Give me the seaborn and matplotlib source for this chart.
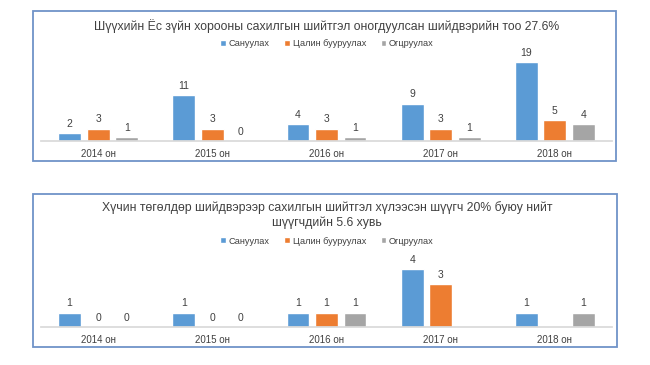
import matplotlib
matplotlib.use("Agg")
import matplotlib.pyplot as plt
import seaborn as sns
import pandas as pd
import numpy as np
from matplotlib.patches import Rectangle

years = ["2014 он", "2015 он", "2016 он", "2017 он", "2018 он"]
series = ["Сануулах", "Цалин бууруулах", "Огцруулах"]

top_sanuulah = [2, 11, 4, 9, 19]
top_tsalin = [3, 3, 3, 3, 5]
top_ogtsruulah = [1, 0, 1, 1, 4]

bot_sanuulah = [1, 1, 1, 4, 1]
bot_tsalin = [0, 0, 1, 3, np.nan]
bot_ogtsruulah = [0, 0, 1, np.nan, 1]

title_top = "Шүүхийн Ёс зүйн хорооны сахилгын шийтгэл оногдуулсан шийдвэрийн тоо 27.6%"
title_bot = "Хүчин төгөлдөр шийдвэрээр сахилгын шийтгэл хүлээсэн шүүгч 20% буюу нийт\nшүүгчдийн 5.6 хувь"

colors = ["#5B9BD5", "#ED7D31", "#A5A5A5"]

def make_df(a, b, c):
    rows = []
    for s, vals in zip(series, [a, b, c]):
        for y, v in zip(years, vals):
            rows.append({"year": y, "series": s, "value": v})
    return pd.DataFrame(rows)

sns.set_theme(style="white")
plt.rcParams['font.family'] = ['Liberation Sans', 'DejaVu Sans']

W, H = 650, 365
fig = plt.figure(figsize=(6.5, 3.65), dpi=100)

def fx(x): return x / W
def fy(y): return 1 - y / H

# boxes
for (x0, x1, y0, y1) in [(33, 616, 11, 161), (33, 617, 194, 347)]:
    fig.patches.append(Rectangle((fx(x0), fy(y1)), fx(x1) - fx(x0), fy(y0) - fy(y1),
                                 transform=fig.transFigure, fill=False,
                                 edgecolor="#6F93C8", linewidth=1.3, zorder=0))

def draw(ax, df, ymax, title, title_y, legend_y):
    sns.barplot(data=df, x="year", y="value", hue="series", hue_order=series,
                order=years, palette=colors, width=0.75, gap=0.2, ax=ax,
                errorbar=None, saturation=1)
    ax.set_xlim(-0.5, 4.5)
    ax.set_ylim(0, ymax)
    for c in ax.containers:
        labels = ["" if np.isnan(v) else f"{v:g}" for v in c.datavalues]
        ax.bar_label(c, labels=labels, padding=3, fontsize=7.5, color="#404040")
    ax.set_xlabel("")
    ax.set_ylabel("")
    ax.set_yticks([])
    ax.tick_params(axis="x", length=0, labelsize=7, colors="#404040", pad=6)
    for s in ["top", "left", "right"]:
        ax.spines[s].set_visible(False)
    ax.spines["bottom"].set_color("#D9D9D9")
    ax.set_facecolor("none")
    handles, labs = ax.get_legend_handles_labels()
    ax.legend(handles, labs, loc="center", bbox_to_anchor=(fx(327), fy(legend_y)),
              bbox_transform=fig.transFigure, ncol=3, frameon=False, fontsize=6.6,
              handlelength=0.6, handleheight=0.6, handletextpad=0.3, columnspacing=1.6,
              labelcolor="#404040")
    fig.text(fx(327), fy(title_y), title, ha="center", va="center", fontsize=8.8,
             color="#404040", linespacing=1.25)

ax1 = fig.add_axes([fx(41), fy(141), fx(612) - fx(41), fy(58) - fy(141)])
draw(ax1, make_df(top_sanuulah, top_tsalin, top_ogtsruulah), 20, title_top, 26, 44)

ax2 = fig.add_axes([fx(41), fy(327), fx(612) - fx(41), fy(255) - fy(327)])
draw(ax2, make_df(bot_sanuulah, bot_tsalin, bot_ogtsruulah), 5, title_bot, 215, 241)

fig.savefig("out.png", dpi=100, facecolor="white")
